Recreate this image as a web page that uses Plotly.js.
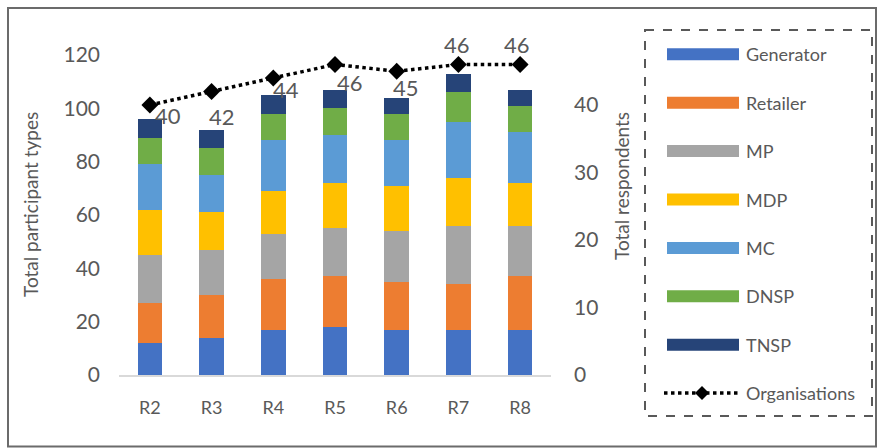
<!DOCTYPE html>
<html>
<head>
<meta charset="utf-8">
<script src="https://cdn.plot.ly/plotly-3.0.1.min.js"></script>
<style>html,body{margin:0;padding:0;background:#fff;}#chart{width:885px;height:448px;}</style>
</head>
<body>
<div id="chart"></div>
<script>
const rounds = ['R2', 'R3', 'R4', 'R5', 'R6', 'R7', 'R8'];
const seriesNames = ['Generator', 'Retailer', 'MP', 'MDP', 'MC', 'DNSP', 'TNSP'];
const generator = [12, 14, 17, 18, 17, 17, 17];
const retailer  = [15, 16, 19, 19, 18, 17, 20];
const mp        = [18, 17, 17, 18, 19, 22, 19];
const mdp       = [17, 14, 16, 17, 17, 18, 16];
const mc        = [17, 14, 19, 18, 17, 21, 19];
const dnsp      = [10, 10, 10, 10, 10, 11, 10];
const tnsp      = [7, 7, 7, 7, 6, 7, 6];
const organisations = [40, 42, 44, 46, 45, 46, 46];
// label offsets (px) from each marker, style only
const orgLabelDx = [18, 10, 13, 15, 9, -1, -3];
const orgLabelDy = [-10, -25, -11, -18, -16, 20, 20];
const colors = ['#4472C4', '#ED7D31', '#A5A5A5', '#FFC000', '#5B9BD5', '#70AD47', '#264478'];
const seriesValues = [generator, retailer, mp, mdp, mc, dnsp, tnsp];

const W = 885, H = 448;
const M = {l: 119, r: 334, t: 55, b: 73};
const PW = W - M.l - M.r, PH = H - M.t - M.b;
const px2x = p => (p - M.l) / PW;
const py2y = p => (H - M.b - p) / PH;
const FONT = 'Lato, "Liberation Sans", sans-serif';
const GREY = '#595959';

const traces = seriesNames.map((name, i) => ({
  type: 'bar', name: name, x: rounds, y: seriesValues[i],
  marker: {color: colors[i], line: {width: 0}},
  showlegend: false, hoverinfo: 'x+y+name'
}));
traces.push({
  type: 'scatter', mode: 'lines+markers', name: 'Organisations',
  x: rounds, y: organisations, yaxis: 'y2',
  line: {color: '#000', width: 3.5, dash: 'dot'},
  marker: {symbol: 'diamond', size: 13, color: '#000'},
  cliponaxis: false, showlegend: false
});

const shapes = [];
const annotations = [];
// data labels for the organisations line
rounds.forEach((r, i) => {
  annotations.push({xref: 'x', yref: 'y2', x: r, y: organisations[i], text: String(organisations[i]),
    showarrow: false, xanchor: 'center', yanchor: 'middle', xshift: orgLabelDx[i], yshift: orgLabelDy[i],
    font: {family: FONT, size: 22, color: GREY}});
});
// outer chart border
shapes.push({type: 'rect', xref: 'paper', yref: 'paper', x0: px2x(8), x1: px2x(876), y0: py2y(8), y1: py2y(446.5),
  line: {color: '#6b6b6b', width: 2}, fillcolor: 'rgba(0,0,0,0)', layer: 'below'});
// legend dashed box
shapes.push({type: 'rect', xref: 'paper', yref: 'paper', x0: px2x(645), x1: px2x(872), y0: py2y(30), y1: py2y(416),
  line: {color: '#595959', width: 2, dash: 'dash'}, fillcolor: 'rgba(0,0,0,0)'});
const legY0 = 54.3, legStep = 48.4;
seriesNames.forEach((name, i) => {
  const cy = legY0 + i * legStep;
  shapes.push({type: 'rect', xref: 'paper', yref: 'paper', x0: px2x(667), x1: px2x(739), y0: py2y(cy - 6), y1: py2y(cy + 6),
    line: {width: 0}, fillcolor: colors[i]});
  annotations.push({xref: 'paper', yref: 'paper', x: px2x(744), y: py2y(cy), xanchor: 'left', yanchor: 'middle',
    text: name, showarrow: false, font: {family: FONT, size: 18, color: GREY}});
});
const oy = legY0 + 7 * legStep;
shapes.push({type: 'line', xref: 'paper', yref: 'paper', x0: px2x(664), x1: px2x(739), y0: py2y(oy), y1: py2y(oy),
  line: {color: '#000', width: 3.5, dash: 'dot'}});
const dx = 7 / PW, dy = 7 / PH, cx = px2x(702), cyy = py2y(oy);
shapes.push({type: 'path', xref: 'paper', yref: 'paper',
  path: `M ${cx - dx} ${cyy} L ${cx} ${cyy + dy} L ${cx + dx} ${cyy} L ${cx} ${cyy - dy} Z`,
  fillcolor: '#000', line: {color: '#000', width: 0}});
annotations.push({xref: 'paper', yref: 'paper', x: px2x(744), y: py2y(oy), xanchor: 'left', yanchor: 'middle',
  text: 'Organisations', showarrow: false, font: {family: FONT, size: 18, color: GREY}});
// axis titles
annotations.push({xref: 'paper', yref: 'paper', x: px2x(30), y: py2y(205), xanchor: 'center', yanchor: 'middle',
  text: 'Total participant types', textangle: -90, showarrow: false, font: {family: FONT, size: 19, color: GREY}});
annotations.push({xref: 'paper', yref: 'paper', x: px2x(621), y: py2y(186), xanchor: 'center', yanchor: 'middle',
  text: 'Total respondents', textangle: -90, showarrow: false, font: {family: FONT, size: 19, color: GREY}});

const layout = {
  width: W, height: H, margin: M, barmode: 'stack', bargap: 0.6,
  paper_bgcolor: '#fff', plot_bgcolor: '#fff', showlegend: false,
  font: {family: FONT, color: GREY},
  xaxis: {type: 'category', showgrid: false, showline: true, linecolor: '#d9d9d9', linewidth: 1.5,
    ticks: '', tickfont: {family: FONT, size: 18, color: GREY}, ticklabelstandoff: 16, zeroline: false},
  yaxis: {range: [0, 120], dtick: 20, showgrid: false, showline: false, zeroline: false, ticks: '',
    tickfont: {family: FONT, size: 21, color: GREY}, ticklabelstandoff: 18},
  yaxis2: {overlaying: 'y', side: 'right', range: [0, 320 / 6.75], dtick: 10, showgrid: false, showline: false,
    zeroline: false, ticks: '', tickfont: {family: FONT, size: 21, color: GREY}, ticklabelstandoff: 22},
  shapes: shapes, annotations: annotations
};
Plotly.newPlot('chart', traces, layout, {displayModeBar: false, staticPlot: true});
</script>
</body>
</html>
